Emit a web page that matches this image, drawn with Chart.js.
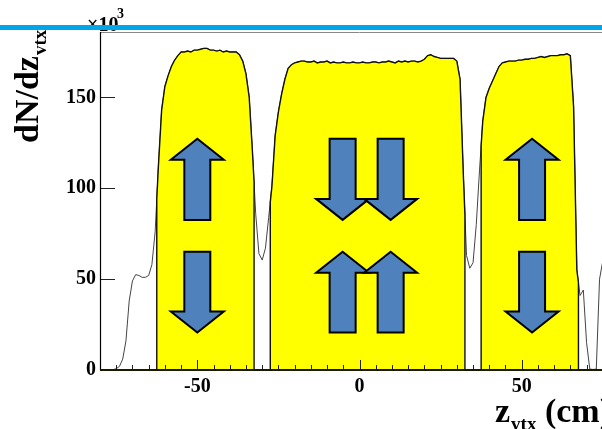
<!DOCTYPE html>
<html>
<head>
<meta charset="utf-8">
<style>
html, body { margin: 0; padding: 0; background: #fff; overflow: hidden; width: 602px; height: 429px; }
#wrap { width: 640px; height: 429px; }
</style>
<script src="https://cdn.jsdelivr.net/npm/chart.js@4.4.0/dist/chart.umd.min.js"></script>
</head>
<body>
<div id="wrap"><canvas id="zvtx" width="640" height="429"></canvas></div>
<script>
// dN/dz_vtx in units of 10^3, read at 1 cm steps, first point at -79 cm
const zFirst = -79;
const zStep = 1;
const counts = [
  0, 0, 0, 0.2, 0.7, 2, 6, 16, 38, 49,
  52.5, 52, 51, 51, 52, 58, 76, 112, 143, 156,
  162, 167, 170.5, 173, 175, 175, 175.5, 175, 176, 176,
  176.5, 177, 177, 176, 176, 175.5, 176, 175, 175.5, 175,
  175, 175, 173.5, 170, 163, 150, 120, 86, 64, 60.5,
  67, 84, 101, 129, 142, 152, 160, 166, 168, 169,
  169.5, 170, 170, 169.5, 169.5, 170, 169, 169.5, 169.5, 170,
  169, 169.5, 169, 169, 169.5, 169, 169, 169.5, 169, 169,
  169.5, 169, 169, 169.5, 169.5, 169, 169.5, 169.5, 170, 169.5,
  169, 170, 169.5, 170, 169.5, 170, 170, 169.5, 170, 171,
  173, 173.5, 172.5, 172, 171.5, 171.5, 171.5, 171.5, 171.5, 170,
  160, 108, 63, 56, 59, 80, 110, 137, 150, 155,
  159, 163, 167, 169, 169.5, 170, 170, 170, 170.5, 170.5,
  171, 171, 171.5, 171.5, 172, 172.5, 172, 172.5, 173, 173,
  173, 173.5, 173.5, 174, 173, 145, 55, 41, 44, 15,
  0.5, 0.3, 0.5, 50, 60
];
// selected z ranges (yellow)
const cuts = [[-62.5, -32.5], [-27.5, 32.5], [37.5, 67.5]];
const xTicks = [-50, 0, 50];
const yTicks = [0, 50, 100, 150];
// arrows: z position, direction, [low, high] in 10^3
const arrowZ   = [-50, -50, -5.2, 9.6, -5.2, 9.6, 53.2, 53.2];
const arrowDir = ['up', 'down', 'down', 'down', 'up', 'up', 'up', 'down'];
const upperSlot = [82.6, 127.3];
const lowerSlot = [20.6, 65.1];
const arrowSlot = [upperSlot, lowerSlot, upperSlot, upperSlot, lowerSlot, lowerSlot, upperSlot, lowerSlot];

function zAt(i) { return zFirst + i * zStep; }

function valueAt(z) {
  var f = (z - zFirst) / zStep, i = Math.floor(f), t = f - i;
  return counts[i] * (1 - t) + counts[i + 1] * t;
}

function histPoints(from, to, closed) {
  var pts = [];
  if (closed) pts.push({x: from, y: 0}, {x: from, y: valueAt(from)});
  counts.forEach(function (v, i) {
    var z = zAt(i);
    if (z >= from && z <= to) pts.push({x: z, y: v});
  });
  if (closed) pts.push({x: to, y: valueAt(to)}, {x: to, y: 0});
  return pts;
}

var datasets = [{
  data: histPoints(-80, 80, false),
  borderColor: '#444',
  borderWidth: 1,
  fill: false,
  order: 2
}];
cuts.forEach(function (c) {
  datasets.push({
    data: histPoints(c[0], c[1], true),
    borderColor: '#111',
    borderWidth: 1.4,
    backgroundColor: '#ffff00',
    fill: 'origin',
    order: 1
  });
});

var serif = '"Liberation Serif", "DejaVu Serif", serif';

var decor = {
  id: 'decor',
  afterDatasetsDraw: function (chart) {
    var ctx = chart.ctx, a = chart.chartArea;
    var xs = chart.scales.x, ys = chart.scales.y;
    ctx.save();
    // ticks (inside the frame)
    ctx.strokeStyle = '#222';
    ctx.lineWidth = 1;
    ctx.beginPath();
    for (var z = -80; z <= 80; z += 5) {
      var px = Math.round(xs.getPixelForValue(z)) + 0.5;
      var len = xTicks.indexOf(z) >= 0 ? 10 : 5;
      ctx.moveTo(px, a.bottom);
      ctx.lineTo(px, a.bottom - len);
    }
    yTicks.forEach(function (v) {
      var py = Math.round(ys.getPixelForValue(v)) + 0.5;
      ctx.moveTo(a.left, py);
      ctx.lineTo(a.left + 15, py);
    });
    ctx.stroke();
    // frame
    ctx.strokeStyle = '#888';
    ctx.beginPath();
    ctx.moveTo(a.left, a.top + 0.5);
    ctx.lineTo(a.right, a.top + 0.5);
    ctx.stroke();
    ctx.strokeStyle = '#000';
    ctx.lineWidth = 1.2;
    ctx.beginPath();
    ctx.moveTo(a.left + 0.5, a.top);
    ctx.lineTo(a.left + 0.5, a.bottom);
    ctx.stroke();
    ctx.lineWidth = 2;
    ctx.strokeStyle = '#1a1a00';
    ctx.beginPath();
    ctx.moveTo(a.left, a.bottom);
    ctx.lineTo(a.right, a.bottom);
    ctx.stroke();

    // arrows
    ctx.fillStyle = '#4f81bd';
    ctx.strokeStyle = '#000';
    ctx.lineWidth = 2;
    ctx.lineJoin = 'miter';
    arrowZ.forEach(function (z, i) {
      var cx = xs.getPixelForValue(z);
      var top = ys.getPixelForValue(arrowSlot[i][1]);
      var bot = ys.getPixelForValue(arrowSlot[i][0]);
      var hw = 26.5, sw = 13, hl = 21;
      var tip, base, tail;
      if (arrowDir[i] === 'up') { tip = top; base = top + hl; tail = bot; }
      else { tip = bot; base = bot - hl; tail = top; }
      ctx.beginPath();
      ctx.moveTo(cx, tip);
      ctx.lineTo(cx + hw, base);
      ctx.lineTo(cx + sw, base);
      ctx.lineTo(cx + sw, tail);
      ctx.lineTo(cx - sw, tail);
      ctx.lineTo(cx - sw, base);
      ctx.lineTo(cx - hw, base);
      ctx.closePath();
      ctx.fill();
      ctx.stroke();
    });
    ctx.restore();
  },
  afterDraw: function (chart) {
    var ctx = chart.ctx;
    ctx.save();
    ctx.fillStyle = '#000';
    ctx.textBaseline = 'alphabetic';
    ctx.textAlign = 'left';
    // x10^3
    ctx.font = 'bold 20px ' + serif;
    ctx.fillText('\u00d710', 87, 31);
    ctx.font = 'bold 14px ' + serif;
    ctx.fillText('3', 117, 18);
    // y title
    ctx.save();
    ctx.translate(38, 143);
    ctx.rotate(-Math.PI / 2);
    ctx.font = 'bold 34px ' + serif;
    ctx.fillText('dN/dz', 0, 0);
    var w = ctx.measureText('dN/dz').width;
    ctx.font = 'bold 19px ' + serif;
    ctx.fillText('vtx', w + 1, 8);
    ctx.restore();
    // x title
    ctx.font = 'bold 34px ' + serif;
    ctx.fillText('z', 495, 422);
    var wz = ctx.measureText('z').width;
    ctx.font = 'bold 19px ' + serif;
    ctx.fillText('vtx', 495 + wz + 1, 430);
    var wv = ctx.measureText('vtx').width;
    ctx.font = 'bold 34px ' + serif;
    ctx.fillText(' (cm)', 495 + wz + wv + 1, 422);
    // slide rule line
    ctx.fillStyle = '#00a6e8';
    ctx.fillRect(0, 25, 640, 5);
    ctx.restore();
  }
};

new Chart(document.getElementById('zvtx'), {
  type: 'line',
  data: {datasets: datasets},
  options: {
    responsive: false,
    animation: false,
    layout: {padding: {top: 32, right: 21, left: 0, bottom: 0}},
    plugins: {legend: {display: false}, tooltip: {enabled: false}},
    elements: {point: {radius: 0}, line: {tension: 0}},
    scales: {
      x: {
        type: 'linear', min: -80, max: 80,
        grid: {display: false, drawTicks: false}, border: {display: false},
        afterBuildTicks: function (s) { s.ticks = xTicks.map(function (v) { return {value: v}; }); },
        afterFit: function (s) { s.height = 59; },
        ticks: {font: {family: serif, weight: 'bold', size: 20}, color: '#000', padding: 5, maxRotation: 0}
      },
      y: {
        min: 0, max: 186,
        grid: {display: false, drawTicks: false}, border: {display: false},
        afterBuildTicks: function (s) { s.ticks = yTicks.map(function (v) { return {value: v}; }); },
        afterFit: function (s) { s.width = 100; },
        ticks: {font: {family: serif, weight: 'bold', size: 20}, color: '#000', padding: 4}
      }
    }
  },
  plugins: [decor]
});
</script>
</body>
</html>
